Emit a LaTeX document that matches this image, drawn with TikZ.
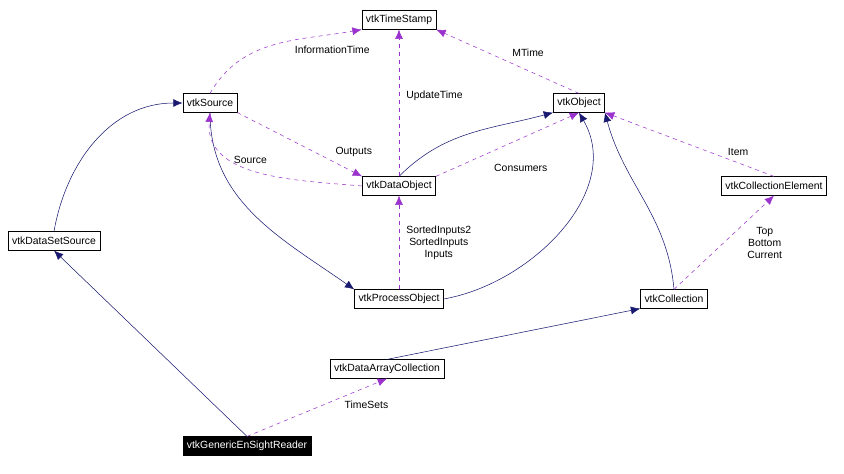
\documentclass[tikz,border=0pt]{standalone}
\usepackage{fontspec}
\setmainfont{Liberation Sans}
\usetikzlibrary{arrows.meta,positioning}
\definecolor{navyline}{HTML}{191970}
\definecolor{purpleline}{HTML}{9A32CD}
\begin{document}
\begin{tikzpicture}[x=0.75pt,y=-0.75pt,
                    cls/.style={draw,thin,inner xsep=3pt,inner ysep=2pt,minimum height=14pt,font=\fontsize{7.8}{9}\selectfont},
                    clsmain/.style={cls,fill=black,text=white},
                    inherit/.style={-{Latex[length=7pt,width=6pt]},navyline},
                    usage/.style={-{Latex[length=7pt,width=6pt]},purpleline,dashed},
                    elabel/.style={font=\fontsize{7.8}{9}\selectfont,align=center,text=black}
                    ]
    \useasboundingbox (0,0) rectangle (844,474);
    % class nodes
    \node[cls] (ts)   at (399,20)  {vtkTimeStamp};
    \node[cls] (src)  at (210,103) {vtkSource};
    \node[cls] (obj)  at (579,103) {vtkObject};
    \node[cls] (dobj) at (399,186) {vtkDataObject};
    \node[cls] (cel)  at (774,186) {vtkCollectionElement};
    \node[cls] (dss)  at (54,241)  {vtkDataSetSource};
    \node[cls] (pobj) at (399,299) {vtkProcessObject};
    \node[cls] (coll) at (674,299) {vtkCollection};
    \node[cls] (dac)  at (387,369) {vtkDataArrayCollection};
    \node[clsmain] (gesr) at (247,446) {vtkGenericEnSightReader};

    % inheritance
    \draw[inherit] (dss.north) to[out=80, in=180] (src.west);
    \draw[inherit] (gesr.north) -- (dss.south);
    \draw[inherit] (dac.north) -- (coll.south west);
    \draw[inherit] (coll.north) to[out=95, in=-75] (obj.south east);
    \draw[inherit] (pobj.east) to[out=10, in=-60] (obj.south);
    \draw[inherit] (dobj.north) to[out=45, in=195] (obj.south west);
    \draw[inherit] (src.south) to[out=-90, in=145] (pobj.north west);

    % usage
    \draw[usage] (src.north) to[out=60, in=190] node[elabel, pos=0.6, below right] {InformationTime} (ts.south west);
    \draw[usage] (dobj.north) -- node[elabel, pos=0.55, right=2pt] {UpdateTime} (ts.south);
    \draw[usage] (obj.north) -- node[elabel, above right] {MTime} (ts.south east);
    \draw[usage] (src.south east) -- node[elabel, pos=0.75, above right=-1pt and 0pt] {Outputs} (dobj.north west);
    \draw[usage] (dobj.west) to[out=175, in=-95] node[elabel, pos=0.55, above] {Source} (src.south);
    \draw[usage] (dobj.north east) -- node[elabel, pos=0.3, below right=2pt and 8pt] {Consumers} (obj.south);
    \draw[usage] (cel.north) -- node[elabel, pos=0.3, above right=-2pt and 0pt] {Item} (obj.south east);
    \draw[usage] (coll.north) -- node[elabel, pos=0.5, right=14pt] {Top\\Bottom\\Current} (cel.south);
    \draw[usage] (pobj.north) -- node[elabel, right=2pt] {SortedInputs2\\SortedInputs\\Inputs} (dobj.south);
    \draw[usage] (gesr.north) -- node[elabel, pos=0.55, right=12pt] {TimeSets} (dac.south);
\end{tikzpicture}
\end{document}
